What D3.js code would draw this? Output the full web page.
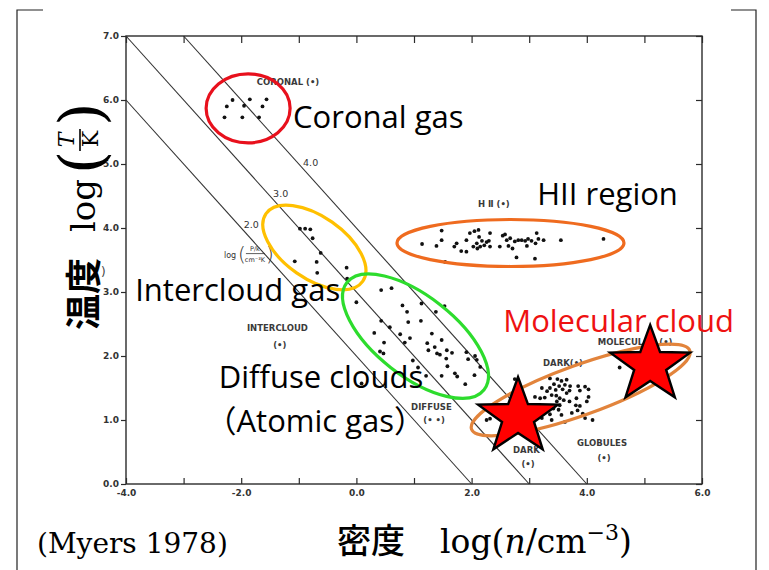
<!DOCTYPE html>
<html>
<head>
<meta charset="utf-8">
<script src="https://cdn.jsdelivr.net/npm/d3@7"></script>
<style>
  body { margin: 0; background: #fff; }
  svg { display: block; }
</style>
</head>
<body>
<svg id="chart" width="769" height="570"></svg>
<script>
// ---- data: log density (n / cm^-3) vs log temperature (T / K) ----
const coronal = [
  [-2.15, 6.00], [-1.85, 6.01], [-1.56, 6.01],
  [-2.25, 5.90], [-1.95, 5.91], [-1.63, 5.90],
  [-2.29, 5.73], [-1.98, 5.73], [-1.69, 5.73]
];
const intercloud = [
  [-0.98, 3.99], [-0.89, 3.99], [-0.80, 3.98], [-0.76, 3.84], [-0.62, 3.61],
  [-1.07, 3.48], [-0.69, 3.47], [-0.68, 3.30], [-0.17, 3.38], [-0.16, 3.21]
];
const diffuse = [
  [0.00, 2.84], [0.43, 3.03], [0.61, 3.06], [0.80, 2.79], [1.13, 2.82], [1.53, 2.78],
  [0.88, 2.69], [1.38, 2.69], [0.43, 2.55], [0.58, 2.45], [0.90, 2.53], [1.12, 2.55],
  [0.31, 2.36], [0.76, 2.34], [0.93, 2.28], [1.31, 2.35], [1.48, 2.25], [0.48, 2.21],
  [0.84, 2.21], [1.23, 2.20], [0.41, 2.07], [0.47, 2.04], [1.25, 2.09], [1.36, 2.14],
  [1.40, 2.04], [1.57, 2.09], [1.45, 2.02], [1.56, 1.96], [1.66, 2.05], [1.91, 2.06],
  [1.94, 1.95], [2.06, 2.00], [2.09, 1.94], [2.15, 1.83], [0.98, 1.93], [1.07, 1.82],
  [1.58, 1.84], [1.71, 1.73], [1.48, 1.69], [1.75, 1.68], [1.21, 1.69], [2.05, 1.70],
  [1.89, 1.56], [0.09, 1.57]
];
const hii = [
  [1.14, 3.75], [1.48, 3.96], [1.48, 3.81], [1.39, 3.72], [1.54, 3.47], [1.70, 3.71],
  [1.74, 3.76], [1.82, 3.64], [1.91, 3.63], [1.91, 3.81], [1.97, 3.92], [2.05, 3.95],
  [2.12, 3.97], [2.13, 3.86], [2.18, 3.80], [2.22, 3.73], [2.26, 3.78], [2.30, 3.80],
  [2.32, 3.92], [2.10, 3.68], [2.03, 3.71], [2.09, 3.76], [2.15, 3.71], [2.32, 3.71],
  [2.49, 3.71], [2.54, 3.88], [2.58, 3.90], [2.61, 3.81], [2.64, 3.72], [2.67, 3.84],
  [2.71, 3.68], [2.75, 3.79], [2.78, 3.54], [2.81, 3.81], [2.87, 3.81], [2.93, 3.80],
  [2.96, 3.72], [2.98, 3.83], [3.04, 3.80], [3.11, 3.76], [3.13, 3.92], [3.16, 3.83],
  [3.10, 3.52], [3.25, 3.81], [3.55, 3.81], [4.29, 3.83]
];
const darkClouds = [
  [2.75, 1.64], [3.36, 1.65], [3.49, 1.64], [3.56, 1.61], [3.65, 1.63], [3.43, 1.56],
  [3.52, 1.53], [3.62, 1.55], [3.71, 1.53], [3.36, 1.50], [3.22, 1.50], [3.31, 1.45],
  [3.46, 1.47], [3.58, 1.48], [3.70, 1.46], [3.85, 1.53], [3.97, 1.52], [4.03, 1.48],
  [3.88, 1.46], [3.10, 1.36], [3.19, 1.34], [3.27, 1.35], [3.39, 1.39], [3.47, 1.38],
  [3.53, 1.34], [3.60, 1.31], [3.70, 1.29], [3.81, 1.23], [3.88, 1.22], [4.03, 1.36],
  [4.00, 1.29], [3.42, 1.18], [3.51, 1.16], [3.36, 1.09], [3.56, 1.08], [3.74, 1.11],
  [3.84, 1.15], [3.93, 1.10], [4.10, 1.00], [3.97, 1.03], [3.39, 1.00], [3.22, 1.03],
  [2.26, 1.00], [2.32, 1.02], [2.49, 1.03], [2.72, 1.05], [2.64, 0.97], [3.62, 0.97],
  [3.48, 1.29], [3.65, 1.42], [3.53, 1.23], [3.82, 1.34], [4.57, 1.82]
];

// lines of constant pressure: log(P/k / cm^-3 K) = log n + log T
const pressureLevels = [2, 3, 4];
const pressureLabels = ["2.0", "3.0", "4.0"];

// axis ticks
const xTicks = [-4, -3, -2, -1, 0, 1, 2, 3, 4, 5, 6];
const xTickLabels = ["-4.0", "", "-2.0", "", "0.0", "", "2.0", "", "4.0", "", "6.0"];
const yTicks = [0, 1, 2, 3, 4, 5, 6, 7];
const yTickLabels = ["0.0", "1.0", "2.0", "3.0", "4.0", "5.0", "6.0", "7.0"];

// ---- layout ----
const svg = d3.select("#chart");
const plot = { left: 126, right: 702, top: 36, bottom: 484 };
const x = d3.scaleLinear().domain([-4, 6]).range([plot.left, plot.right]);
const y = d3.scaleLinear().domain([0, 7]).range([plot.bottom, plot.top]);

const INK = "#2b2b2b";
const tickFont = "'DejaVu Sans', sans-serif";
const noteFont = "'Open Sans', 'Noto Sans CJK JP', sans-serif";

// outer slide frame
const frame = svg.append("g").attr("stroke", "#222").attr("stroke-width", 1.2).attr("fill", "none");
frame.append("path").attr("d", "M43,10H17V570");
frame.append("path").attr("d", "M731,10H756V570");

// plot box
svg.append("rect")
  .attr("x", plot.left).attr("y", plot.top)
  .attr("width", plot.right - plot.left).attr("height", plot.bottom - plot.top)
  .attr("fill", "none").attr("stroke", INK).attr("stroke-width", 1.4);

function styleAxis(g, withText) {
  g.select(".domain").remove();
  g.selectAll(".tick line").attr("stroke", INK).attr("stroke-width", 1.2);
  g.selectAll(".tick text")
    .attr("font-family", tickFont).attr("font-weight", "bold")
    .attr("font-size", 9).attr("fill", "#333");
  if (!withText) g.selectAll(".tick text").remove();
}

svg.append("g").attr("transform", `translate(${plot.left},0)`)
  .call(d3.axisLeft(y).tickValues(yTicks).tickSize(5).tickPadding(2)
    .tickFormat((d, i) => yTickLabels[i]))
  .call(g => styleAxis(g, true));

svg.append("g").attr("transform", `translate(0,${plot.bottom})`)
  .call(d3.axisBottom(x).tickValues(xTicks).tickSizeInner(-6).tickSizeOuter(0).tickPadding(6)
    .tickFormat((d, i) => xTickLabels[i]))
  .call(g => styleAxis(g, true));

svg.append("g").attr("transform", `translate(0,${plot.top})`)
  .call(d3.axisTop(x).tickValues(xTicks).tickSizeInner(-7).tickSizeOuter(0))
  .call(g => styleAxis(g, false));

svg.append("g").attr("transform", `translate(${plot.right},0)`)
  .call(d3.axisRight(y).tickValues(yTicks).tickSizeInner(-6).tickSizeOuter(0))
  .call(g => styleAxis(g, false));

// constant-pressure diagonals, clipped to the plot box
function pressureSegment(p) {
  const [n0, n1] = x.domain(), [t0, t1] = y.domain();
  const start = (p - t1 >= n0) ? [p - t1, t1] : [n0, p - n0];
  const end = (p - t0 <= n1) ? [p - t0, t0] : [n1, p - n1];
  return [start, end];
}
const lineGen = d3.line().x(d => x(d[0])).y(d => y(d[1]));
svg.append("g").selectAll("path")
  .data(pressureLevels)
  .join("path")
  .attr("d", p => lineGen(pressureSegment(p)))
  .attr("fill", "none").attr("stroke", "#333").attr("stroke-width", 1.1);

// level labels sit just right of each diagonal
const labelT = [4.06, 4.55, 5.03];
svg.append("g").selectAll("text")
  .data(pressureLevels)
  .join("text")
  .attr("x", (p, i) => x(p - labelT[i]) + 6)
  .attr("y", (p, i) => y(labelT[i]) + 4)
  .attr("font-family", tickFont).attr("font-size", 9.5).attr("fill", "#333")
  .text((p, i) => pressureLabels[i]);

// "log(P/k / cm^-3 K)" key for the diagonals
const pk = svg.append("g").attr("transform", `translate(${x(-2.3)},${y(3.6)})`)
  .attr("font-family", tickFont).attr("fill", "#333");
pk.append("text").attr("x", 0).attr("y", 4).attr("font-size", 8).text("log");
pk.append("text").attr("x", 14).attr("y", 7).attr("font-size", 20).attr("font-weight", 300).text("(");
pk.append("text").attr("x", 31).attr("y", -3).attr("font-size", 6.5).attr("text-anchor", "middle").text("P/k");
pk.append("line").attr("x1", 22).attr("x2", 41).attr("y1", 0).attr("y2", 0).attr("stroke", "#333").attr("stroke-width", 0.8);
pk.append("text").attr("x", 31).attr("y", 8).attr("font-size", 6.5).attr("text-anchor", "middle").text("cm\u207B\u00B3K");
pk.append("text").attr("x", 42).attr("y", 7).attr("font-size", 20).attr("font-weight", 300).text(")");

// original category captions
const captions = [
  { t: "CORONAL (\u2022)", n: -1.73, T: 6.23, a: "start" },
  { t: "H \u2161 (\u2022)", n: 2.11, T: 4.33, a: "start" },
  { t: "INTERCLOUD", n: -1.90, T: 2.39, a: "start" },
  { t: "(\u2022)", n: -1.33, T: 2.13, a: "middle" },
  { t: "DIFFUSE", n: 0.95, T: 1.16, a: "start" },
  { t: "(\u2022 \u2022)", n: 1.35, T: 0.95, a: "middle" },
  { t: "DARK", n: 2.72, T: 0.48, a: "start" },
  { t: "(\u2022)", n: 2.98, T: 0.27, a: "middle" },
  { t: "GLOBULES", n: 3.83, T: 0.59, a: "start" },
  { t: "(\u2022)", n: 4.30, T: 0.36, a: "middle" },
  { t: "DARK(\u2022)", n: 3.24, T: 1.84, a: "start" },
  { t: "MOLECULAR (\u2022)", n: 4.19, T: 2.17, a: "start" }
];
svg.append("g").selectAll("text")
  .data(captions)
  .join("text")
  .attr("x", d => x(d.n)).attr("y", d => y(d.T))
  .attr("text-anchor", d => d.a)
  .attr("font-family", tickFont).attr("font-weight", "bold")
  .attr("font-size", 8.5).attr("fill", "#3a3a3a")
  .text(d => d.t);

// observed points
const groups = [coronal, intercloud, diffuse, hii, darkClouds];
svg.append("g").selectAll("g")
  .data(groups)
  .join("g")
  .selectAll("circle")
  .data(d => d)
  .join("circle")
  .attr("cx", d => x(d[0])).attr("cy", d => y(d[1]))
  .attr("r", 1.9).attr("fill", "#111");

// region outlines
const regions = [
  { n: -1.88, T: 5.87, rx: 42, ry: 34.5, rot: 0, color: "#e8101c" },
  { n: -0.73, T: 3.695, rx: 59, ry: 31, rot: 35, color: "#ffc000" },
  { n: 1.026, T: 2.31, rx: 87, ry: 40, rot: 38, color: "#2ddc2d" },
  { n: 2.675, T: 3.766, rx: 113.5, ry: 23.5, rot: 0, color: "#ef6b1f" },
  { n: 3.894, T: 1.469, rx: 116, ry: 25, rot: -19.8, color: "#e2843c" }
];
svg.append("g").selectAll("ellipse")
  .data(regions)
  .join("ellipse")
  .attr("transform", d => `translate(${x(d.n)},${y(d.T)}) rotate(${d.rot})`)
  .attr("rx", d => d.rx).attr("ry", d => d.ry)
  .attr("fill", "none").attr("stroke", d => d.color).attr("stroke-width", 3.2);

// star markers on the molecular-cloud locus
const stars = [[2.806, 1.047], [5.10, 1.86]];
function starPath(R, r, sx) {
  const pts = d3.range(10).map(i => {
    const a = -Math.PI / 2 + i * Math.PI / 5;
    const rad = i % 2 ? r : R;
    return [sx * rad * Math.cos(a), rad * Math.sin(a)];
  });
  return d3.line()(pts) + "Z";
}
svg.append("g").selectAll("path")
  .data(stars)
  .join("path")
  .attr("transform", d => `translate(${x(d[0])},${y(d[1])})`)
  .attr("d", starPath(40, 16, 1.05))
  .attr("fill", "#ff0000").attr("stroke", "#000").attr("stroke-width", 2.4)
  .attr("stroke-linejoin", "miter");

// region names
const notes = [
  { t: "Coronal gas", n: -1.10, T: 5.56, c: "#000" },
  { t: "HII region", n: 3.14, T: 4.36, c: "#000" },
  { t: "Intercloud gas", n: -3.84, T: 2.86, c: "#000" },
  { t: "Molecular cloud", n: 2.55, T: 2.375, c: "#ee1111" },
  { t: "Diffuse clouds", n: -2.39, T: 1.50, c: "#000" },
  { t: "\uFF08Atomic gas\uFF09", n: -2.62, T: 0.81, c: "#000" }
];
svg.append("g").selectAll("text")
  .data(notes)
  .join("text")
  .attr("x", d => x(d.n)).attr("y", d => y(d.T))
  .attr("font-family", noteFont).attr("font-size", 31)
  .attr("fill", d => d.c)
  .text(d => d.t);

// y axis title: 温度 log(T/K)
const serif = "'DejaVu Serif', 'Liberation Serif', serif";
const yt = svg.append("g").attr("transform", "translate(97,330) rotate(-90)");
yt.append("text").attr("x", 0).attr("y", 0)
  .attr("font-family", "'Noto Sans CJK JP', sans-serif").attr("font-weight", 700)
  .attr("font-size", 36).text("温度");
yt.append("text").attr("x", 98).attr("y", -2)
  .attr("font-family", serif).attr("font-size", 34).text("log");
yt.append("text").attr("x", 156).attr("y", 5)
  .attr("font-family", serif).attr("font-size", 60).attr("font-weight", 300).text("(");
yt.append("text").attr("x", 190).attr("y", -23)
  .attr("font-family", serif).attr("font-style", "italic").attr("font-size", 22)
  .attr("text-anchor", "middle").text("T");
yt.append("line").attr("x1", 179).attr("x2", 201).attr("y1", -17).attr("y2", -17)
  .attr("stroke", "#000").attr("stroke-width", 1.6);
yt.append("text").attr("x", 191).attr("y", 1)
  .attr("font-family", serif).attr("font-size", 22)
  .attr("text-anchor", "middle").text("K");
yt.append("text").attr("x", 204).attr("y", 5)
  .attr("font-family", serif).attr("font-size", 60).attr("font-weight", 300).text(")");
svg.append("text").attr("x", 101).attr("y", 276)
  .attr("font-family", tickFont).attr("font-size", 12).attr("fill", "#444").text(")");

// x axis title and source
svg.append("text").attr("x", 337).attr("y", 553)
  .attr("font-family", "'Noto Sans CJK JP', sans-serif").attr("font-weight", 500)
  .attr("font-size", 34).text("密度");
const xt = svg.append("text").attr("x", 440).attr("y", 553)
  .attr("font-family", serif).attr("font-size", 33);
xt.append("tspan").text("log(");
xt.append("tspan").attr("font-style", "italic").text("n");
xt.append("tspan").text("/cm");
xt.append("tspan").attr("font-size", 22).attr("dy", -13).text("\u22123");
xt.append("tspan").attr("dy", 13).text(")");
svg.append("text").attr("x", 37).attr("y", 553)
  .attr("font-family", serif).attr("font-size", 28).text("(Myers 1978)");
</script>
</body>
</html>
